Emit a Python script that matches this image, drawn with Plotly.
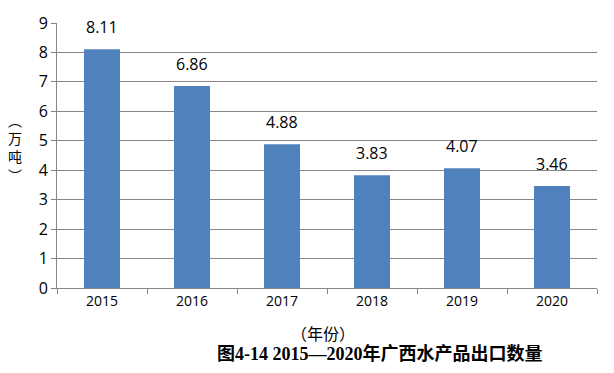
import plotly.graph_objects as go

years = ["2015", "2016", "2017", "2018", "2019", "2020"]
values = [8.11, 6.86, 4.88, 3.83, 4.07, 3.46]
labels = ["8.11", "6.86", "4.88", "3.83", "4.07", "3.46"]

grey = "#868686"
fig = go.Figure(go.Bar(
    x=years, y=values,
    marker=dict(color="#4F81BD", line=dict(width=0)),
    width=0.4,
))
for i, (v, lab) in enumerate(zip(values, labels)):
    fig.add_annotation(x=i, y=v, text=lab, showarrow=False, yanchor="bottom",
                       yshift=9, font=dict(size=16, color="#000000",
                                            family="Open Sans, Liberation Sans"))
fig.update_layout(
    width=614, height=373,
    margin=dict(l=57, r=17, t=18, b=85),
    plot_bgcolor="white", paper_bgcolor="white",
    showlegend=False,
    font=dict(family="Open Sans, Liberation Sans", color="#000000"),
    xaxis=dict(type="category", showline=True, linecolor=grey, linewidth=1,
               ticks="outside", ticklen=5, tickcolor=grey, tickson="boundaries",
               tickfont=dict(size=14), showgrid=False),
    yaxis=dict(range=[0, 9], dtick=1, showline=True, linecolor=grey, linewidth=1,
               ticks="outside", ticklen=5, tickcolor=grey,
               gridcolor=grey, gridwidth=1, zeroline=False,
               tickfont=dict(size=16)),
)
fig.add_annotation(text="︵<br>万<br>吨<br>︶", xref="paper", yref="paper",
                   x=-57/540, y=(288-145)/270, xanchor="left", yanchor="middle",
                   showarrow=False, font=dict(size=14, family="Noto Sans CJK SC"),
                   xshift=6)
fig.add_annotation(text="（年份）", xref="paper", yref="paper",
                   x=(323-57)/540, y=-(334-288)/270, xanchor="center", yanchor="middle",
                   showarrow=False, font=dict(size=16, family="Noto Sans CJK SC"))
fig.add_annotation(text="<b>图4-14 2015—2020年广西水产品出口数量</b>", xref="paper", yref="paper",
                   x=(380-57)/540, y=-(355-288)/270, xanchor="center", yanchor="middle",
                   showarrow=False, font=dict(size=18, family="Liberation Serif, Noto Sans CJK SC"))
fig.write_html("out.html")
